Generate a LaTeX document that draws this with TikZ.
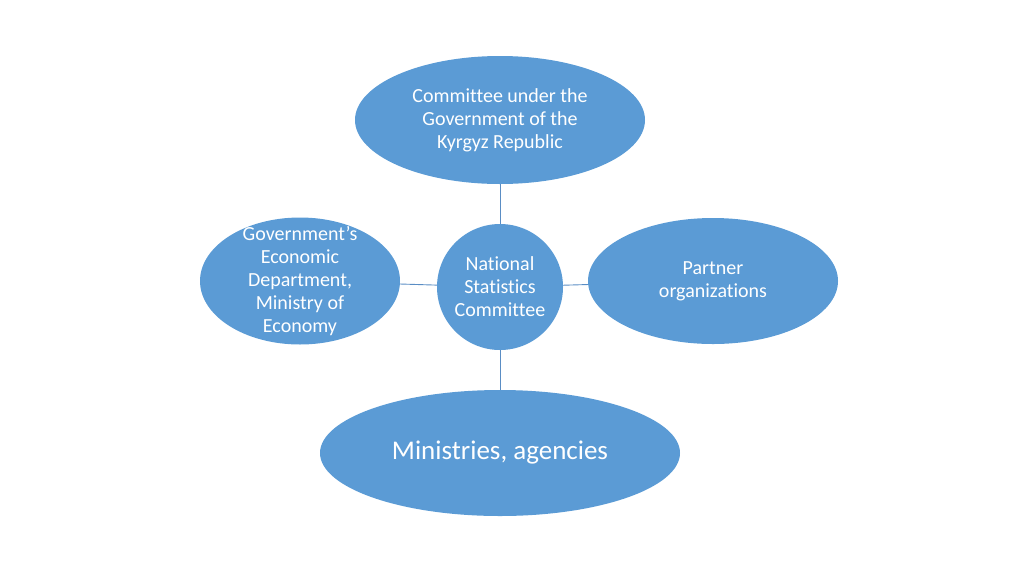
\documentclass[tikz,border=0pt]{standalone}
\usepackage{fontspec}
\setmainfont{Carlito}[Ligatures=NoCommon]
\usetikzlibrary{shapes.geometric,positioning}
\definecolor{blobblue}{HTML}{5B9BD5}
\definecolor{linkblue}{HTML}{5A8DC4}

\begin{document}
\begin{tikzpicture}[x=1pt,y=-1pt,
		blob/.style={ellipse,fill=blobblue,text=white,inner sep=0pt,align=center,font=\fontsize{20}{23}\selectfont},
		link/.style={draw=linkblue,line width=0.9pt}]
			\useasboundingbox (0,0) rectangle (1024,576);
			\node[blob,circle,inner sep=-12pt,minimum size=126pt] (nsc) at (500,287) {National\\Statistics\\Committee};
			\node[blob,minimum width=290pt,minimum height=128pt] (cttee) at (500,120) {Committee under the\\Government of the\\Kyrgyz Republic};
			\node[blob,inner sep=-30pt,minimum width=200pt,minimum height=127pt] (econ) at (300,281) {Government’s\\Economic\\Department,\\Ministry of\\Economy};
			\node[blob,minimum width=250pt,minimum height=126pt] (partner) at (713,281) {Partner\\organizations};
			\node[blob,minimum width=360pt,minimum height=126pt,font=\fontsize{27}{32}\selectfont] (minist) at (500,453) {Ministries, agencies};
			%
			\draw[link] (cttee) -- (nsc);
			\draw[link] (econ) -- (nsc);
			\draw[link] (nsc) -- (partner);
			\draw[link] (nsc) -- (minist);
\end{tikzpicture}
\end{document}
